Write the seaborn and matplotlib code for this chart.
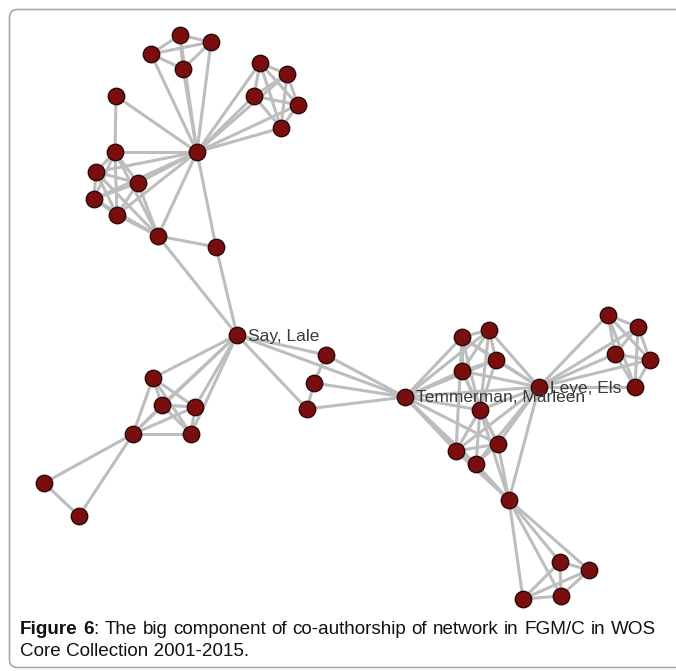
import itertools
import matplotlib
matplotlib.use("Agg")
import matplotlib.pyplot as plt
from matplotlib.collections import LineCollection
from matplotlib.patches import FancyBboxPatch
import seaborn as sns
import pandas as pd

# node positions (pixel units, y down)
node_x = [197, 151, 180, 211, 183, 260, 287, 254, 298, 281, 116, 115, 96, 138, 94, 117,
          158, 216, 237, 153, 162, 195, 133, 191, 44, 79, 326, 314, 307, 405,
          462, 489, 462, 496, 539, 608, 638, 615, 650, 635, 480, 456, 476, 498,
          509, 560, 589, 523, 561]
node_y = [152, 54, 35, 42, 69, 63, 74, 96, 105, 128, 96, 152, 172, 183, 199, 215,
          236, 247, 335, 378, 405, 407, 434, 434, 483, 516, 355, 383, 409, 397,
          337, 330, 371, 360, 387, 315, 327, 354, 360, 387, 410, 451, 464, 444,
          500, 562, 570, 599, 596]

# named nodes
labels = {18: "Say, Lale", 29: "Temmerman, Marleen", 34: "Leye, Els"}

# groups of co-authors that are fully linked
cliques = [
    [0, 1, 2, 3, 4],
    [0, 5, 6, 7, 8, 9],
    [0, 11, 12, 13, 14, 15],
    [16, 11, 12, 13, 14, 15],
    [18, 19, 20, 21, 22, 23],
    [29, 30, 31, 32, 33, 34],
    [29, 40, 41, 42, 43, 34],
    [34, 35, 36, 37, 38, 39],
    [44, 45, 46, 47, 48],
]
extra_edges = [
    (10, 0), (10, 11), (16, 0), (16, 17), (16, 18), (17, 0), (17, 18),
    (22, 24), (22, 25), (24, 25),
    (18, 26), (18, 28), (18, 29), (26, 27), (27, 28), (26, 29), (27, 29), (28, 29),
    (30, 40), (32, 40), (33, 40), (31, 40), (32, 43), (30, 41),
    (44, 29), (44, 34), (44, 40), (44, 41), (44, 42), (44, 43),
]

caption_line1 = [[("Figure", "bold")], [("6", "bold"), (":", "normal")], "The", "big",
                 "component", "of", "co-authorship", "of", "network", "in", "FGM/C",
                 "in", "WOS"]
caption_line2 = "Core Collection 2001-2015."

edges = set()
for group in cliques:
    for a, b in itertools.combinations(group, 2):
        edges.add((min(a, b), max(a, b)))
for a, b in extra_edges:
    edges.add((min(a, b), max(a, b)))

nodes = pd.DataFrame({"x": node_x, "y": node_y})

sns.set_theme(style="white")
plt.rcParams['font.family'] = ['Liberation Sans', 'DejaVu Sans']

fig = plt.figure(figsize=(6.76, 6.71), dpi=100)
ax = fig.add_axes([0, 0, 1, 1])
ax.set_xlim(0, 676)
ax.set_ylim(671, 0)
ax.axis("off")

# frame with rounded corners, right side runs off the picture
frame = FancyBboxPatch((9.5, 9.5), 720, 658, boxstyle="round,pad=0,rounding_size=8",
                       fill=False, edgecolor="#a8a8a8", linewidth=1.2)
ax.add_patch(frame)

segs = [[(node_x[a], node_y[a]), (node_x[b], node_y[b])] for a, b in sorted(edges)]
ax.add_collection(LineCollection(segs, colors="#bdbdbd", linewidths=2.2, zorder=1))

sns.scatterplot(data=nodes, x="x", y="y", ax=ax, s=140, color="#7a0e0e",
                edgecolor="#2a0a0a", linewidth=1.0, zorder=3, legend=False)
ax.set_xlabel("")
ax.set_ylabel("")

for idx, name in labels.items():
    ax.text(node_x[idx] + 11, node_y[idx] + 1, name, fontsize=12.5, color="#3a3a3a",
            ha="left", va="center", zorder=4)

# caption, first line justified between the margins
renderer = fig.canvas.get_renderer()
cap_size = 13.6
left, right = 20, 656
words = [w if isinstance(w, list) else [(w, "normal")] for w in caption_line1]
word_texts = []
widths = []
for w in words:
    runs = []
    wsum = 0
    for txt, weight in w:
        t = ax.text(0, 629, txt, fontsize=cap_size, fontweight=weight, color="#111111",
                    ha="left", va="center")
        bw = t.get_window_extent(renderer).width
        runs.append((t, bw))
        wsum += bw
    word_texts.append(runs)
    widths.append(wsum)
gap = (right - left - sum(widths)) / (len(words) - 1)
xpos = left
for runs, wsum in zip(word_texts, widths):
    xr = xpos
    for t, bw in runs:
        t.set_x(xr)
        xr += bw
    xpos += wsum + gap

ax.text(left, 651, caption_line2, fontsize=cap_size, color="#111111", ha="left", va="center")

fig.savefig("out.png", dpi=100)
